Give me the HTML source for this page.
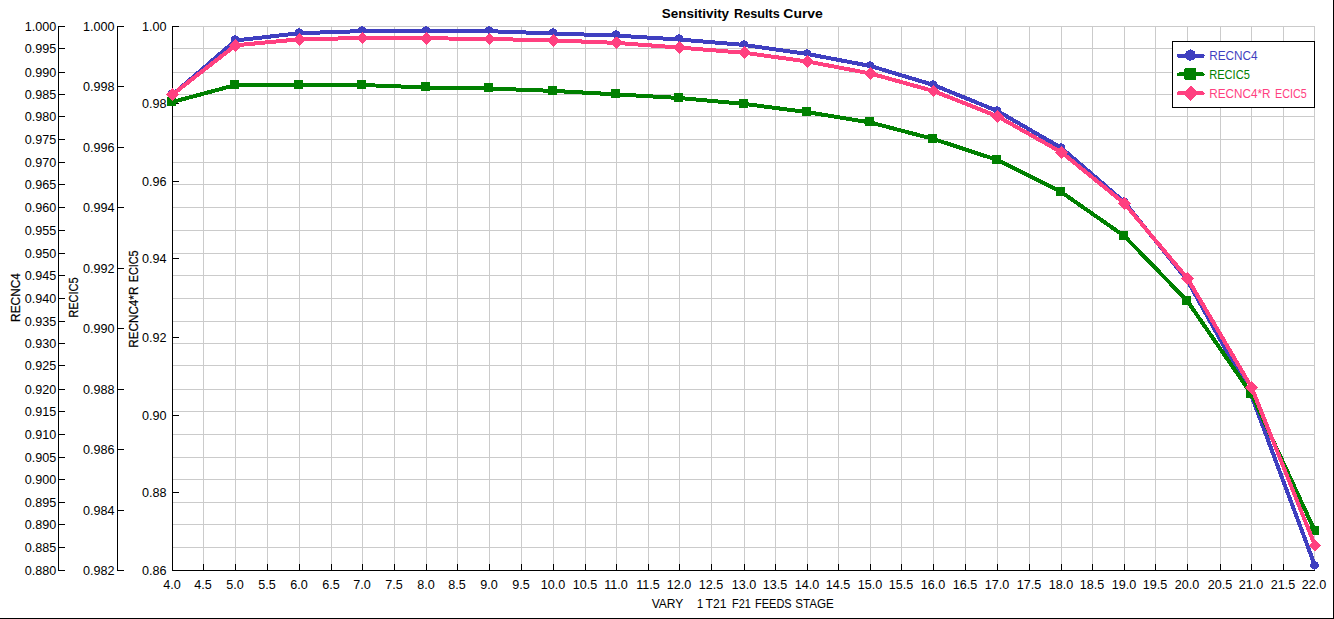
<!DOCTYPE html>
<html><head><meta charset="utf-8"><title>Sensitivity Results Curve</title>
<style>html,body{margin:0;padding:0;background:#fff;overflow:hidden}svg{display:block}text{font-family:"Liberation Sans", sans-serif;fill:#000}</style></head><body>
<svg width="1334" height="619" viewBox="0 0 1334 619">
<rect x="0" y="0" width="1334" height="619" fill="#fff"/>
<g shape-rendering="crispEdges">
<rect x="1333" y="0" width="1" height="619" fill="#000"/><rect x="0" y="618" width="1334" height="1" fill="#000"/>
<path d="M203.5 26V571M235.5 26V571M267.5 26V571M299.5 26V571M331.5 26V571M362.5 26V571M394.5 26V571M426.5 26V571M457.5 26V571M489.5 26V571M521.5 26V571M553.5 26V571M585.5 26V571M616.5 26V571M648.5 26V571M679.5 26V571M711.5 26V571M744.5 26V571M775.5 26V571M807.5 26V571M838.5 26V571M870.5 26V571M901.5 26V571M933.5 26V571M965.5 26V571M997.5 26V571M1029.5 26V571M1061.5 26V571M1092.5 26V571M1124.5 26V571M1155.5 26V571M1187.5 26V571M1220.5 26V571M1251.5 26V571M1283.5 26V571M1314.5 26V571M172 26.5H1315M172 48.5H1315M172 72.5H1315M172 94.5H1315M172 116.5H1315M172 139.5H1315M172 162.5H1315M172 184.5H1315M172 207.5H1315M172 230.5H1315M172 253.5H1315M172 275.5H1315M172 298.5H1315M172 321.5H1315M172 343.5H1315M172 365.5H1315M172 389.5H1315M172 411.5H1315M172 434.5H1315M172 457.5H1315M172 479.5H1315M172 502.5H1315M172 524.5H1315M172 547.5H1315" stroke="#cbcbcb" stroke-width="1" fill="none"/>
<path d="M58.5 26V571M58 26.5H65M58 48.5H65M58 72.5H65M58 94.5H65M58 116.5H65M58 139.5H65M58 162.5H65M58 184.5H65M58 207.5H65M58 230.5H65M58 253.5H65M58 275.5H65M58 298.5H65M58 321.5H65M58 343.5H65M58 365.5H65M58 389.5H65M58 411.5H65M58 434.5H65M58 457.5H65M58 479.5H65M58 502.5H65M58 524.5H65M58 547.5H65M58 570.5H65M117.5 26V571M117 26.5H124M117 86.5H124M117 147.5H124M117 207.5H124M117 268.5H124M117 328.5H124M117 389.5H124M117 449.5H124M117 510.5H124M117 570.5H124M172.5 26V571M172 26.5H179M172 103.5H179M172 181.5H179M172 258.5H179M172 337.5H179M172 415.5H179M172 492.5H179M172 570.5H179M172 570.5H1315M203.5 564V571M235.5 564V571M267.5 564V571M299.5 564V571M331.5 564V571M362.5 564V571M394.5 564V571M426.5 564V571M457.5 564V571M489.5 564V571M521.5 564V571M553.5 564V571M585.5 564V571M616.5 564V571M648.5 564V571M679.5 564V571M711.5 564V571M744.5 564V571M775.5 564V571M807.5 564V571M838.5 564V571M870.5 564V571M901.5 564V571M933.5 564V571M965.5 564V571M997.5 564V571M1029.5 564V571M1061.5 564V571M1092.5 564V571M1124.5 564V571M1155.5 564V571M1187.5 564V571M1220.5 564V571M1251.5 564V571M1283.5 564V571" stroke="#000" stroke-width="1" fill="none"/>
</g>
<g font-size="12.6" text-anchor="end">
<text x="56.2" y="30.9">1.000</text>
<text x="56.2" y="52.9">0.995</text>
<text x="56.2" y="76.9">0.990</text>
<text x="56.2" y="98.9">0.985</text>
<text x="56.2" y="120.9">0.980</text>
<text x="56.2" y="143.9">0.975</text>
<text x="56.2" y="166.9">0.970</text>
<text x="56.2" y="188.9">0.965</text>
<text x="56.2" y="211.9">0.960</text>
<text x="56.2" y="234.9">0.955</text>
<text x="56.2" y="257.9">0.950</text>
<text x="56.2" y="279.9">0.945</text>
<text x="56.2" y="302.9">0.940</text>
<text x="56.2" y="325.9">0.935</text>
<text x="56.2" y="347.9">0.930</text>
<text x="56.2" y="369.9">0.925</text>
<text x="56.2" y="393.9">0.920</text>
<text x="56.2" y="415.9">0.915</text>
<text x="56.2" y="438.9">0.910</text>
<text x="56.2" y="461.9">0.905</text>
<text x="56.2" y="483.9">0.900</text>
<text x="56.2" y="506.9">0.895</text>
<text x="56.2" y="528.9">0.890</text>
<text x="56.2" y="551.9">0.885</text>
<text x="56.2" y="574.9">0.880</text>
<text x="114.6" y="30.9">1.000</text>
<text x="114.6" y="90.9">0.998</text>
<text x="114.6" y="151.9">0.996</text>
<text x="114.6" y="211.9">0.994</text>
<text x="114.6" y="272.9">0.992</text>
<text x="114.6" y="332.9">0.990</text>
<text x="114.6" y="393.9">0.988</text>
<text x="114.6" y="453.9">0.986</text>
<text x="114.6" y="514.9">0.984</text>
<text x="114.6" y="574.9">0.982</text>
<text x="166.4" y="30.9">1.00</text>
<text x="166.4" y="107.9">0.98</text>
<text x="166.4" y="185.9">0.96</text>
<text x="166.4" y="262.9">0.94</text>
<text x="166.4" y="341.9">0.92</text>
<text x="166.4" y="419.9">0.90</text>
<text x="166.4" y="496.9">0.88</text>
<text x="166.4" y="574.9">0.86</text>
</g>
<g font-size="12.6" text-anchor="middle">
<text x="172.1" y="589">4.0</text>
<text x="203.1" y="589">4.5</text>
<text x="235.1" y="589">5.0</text>
<text x="267.1" y="589">5.5</text>
<text x="299.1" y="589">6.0</text>
<text x="331.1" y="589">6.5</text>
<text x="362.1" y="589">7.0</text>
<text x="394.1" y="589">7.5</text>
<text x="426.1" y="589">8.0</text>
<text x="457.1" y="589">8.5</text>
<text x="489.1" y="589">9.0</text>
<text x="521.1" y="589">9.5</text>
<text x="553.1" y="589">10.0</text>
<text x="585.1" y="589">10.5</text>
<text x="616.1" y="589">11.0</text>
<text x="648.1" y="589">11.5</text>
<text x="679.1" y="589">12.0</text>
<text x="711.1" y="589">12.5</text>
<text x="744.1" y="589">13.0</text>
<text x="775.1" y="589">13.5</text>
<text x="807.1" y="589">14.0</text>
<text x="838.1" y="589">14.5</text>
<text x="870.1" y="589">15.0</text>
<text x="901.1" y="589">15.5</text>
<text x="933.1" y="589">16.0</text>
<text x="965.1" y="589">16.5</text>
<text x="997.1" y="589">17.0</text>
<text x="1029.1" y="589">17.5</text>
<text x="1061.1" y="589">18.0</text>
<text x="1092.1" y="589">18.5</text>
<text x="1124.1" y="589">19.0</text>
<text x="1155.1" y="589">19.5</text>
<text x="1187.1" y="589">20.0</text>
<text x="1220.1" y="589">20.5</text>
<text x="1251.1" y="589">21.0</text>
<text x="1283.1" y="589">21.5</text>
<text x="1314.1" y="589">22.0</text>
</g>
<text font-size="13.2" stroke="#000" stroke-width="0.22" transform="translate(20.2,321.9) rotate(-90)" textLength="48.8" lengthAdjust="spacingAndGlyphs">RECNC4</text>
<text font-size="13.2" stroke="#000" stroke-width="0.22" transform="translate(78.2,317.7) rotate(-90)" textLength="40.4" lengthAdjust="spacingAndGlyphs">RECIC5</text>
<text font-size="13.2" stroke="#000" stroke-width="0.22" transform="translate(137.8,347.8) rotate(-90)" textLength="61.2" lengthAdjust="spacingAndGlyphs">RECNC4*R</text>
<text font-size="13.2" stroke="#000" stroke-width="0.22" transform="translate(137.8,282.3) rotate(-90)" textLength="31.8" lengthAdjust="spacingAndGlyphs">ECIC5</text>
<text font-size="12.6" x="651.7" y="608.2" textLength="31.7" lengthAdjust="spacingAndGlyphs">VARY</text>
<text font-size="12.6" x="697.0" y="608.2" textLength="6.2" lengthAdjust="spacingAndGlyphs">1</text>
<text font-size="12.6" x="705.5" y="608.2" textLength="20.9" lengthAdjust="spacingAndGlyphs">T21</text>
<text font-size="12.6" x="732.0" y="608.2" textLength="18.8" lengthAdjust="spacingAndGlyphs">F21</text>
<text font-size="12.6" x="755.1" y="608.2" textLength="36.6" lengthAdjust="spacingAndGlyphs">FEEDS</text>
<text font-size="12.6" x="795.3" y="608.2" textLength="38.6" lengthAdjust="spacingAndGlyphs">STAGE</text>
<text font-size="13" font-weight="bold" x="661.8" y="17.6" textLength="67.3" lengthAdjust="spacingAndGlyphs">Sensitivity</text>
<text font-size="13" font-weight="bold" x="734.0" y="17.6" textLength="45.7" lengthAdjust="spacingAndGlyphs">Results</text>
<text font-size="13" font-weight="bold" x="783.3" y="17.6" textLength="39.6" lengthAdjust="spacingAndGlyphs">Curve</text>
<polyline points="172.50,94.69 235.50,40.50 299.50,33.20 362.50,31.10 426.50,31.00 489.50,31.20 553.50,33.50 616.50,35.60 679.50,39.50 744.50,45.00 807.50,54.00 870.50,66.00 933.50,85.00 997.50,111.00 1061.50,148.00 1124.50,202.20 1187.50,280.60 1251.50,396.00 1315.00,565.80" fill="none" stroke="#3f3fc0" stroke-width="4" stroke-linejoin="round" shape-rendering="crispEdges"/>
<g fill="#3f3fc0" shape-rendering="crispEdges">
<path d="M171 89h2v1h2v1h1v4h-1v1h-2v1h-2v-1h-2v-1h-1v-4h1v-1h2z"/>
<path d="M234 35h2v1h2v1h1v4h-1v1h-2v1h-2v-1h-2v-1h-1v-4h1v-1h2z"/>
<path d="M298 28h2v1h2v1h1v4h-1v1h-2v1h-2v-1h-2v-1h-1v-4h1v-1h2z"/>
<path d="M361 26h2v1h2v1h1v4h-1v1h-2v1h-2v-1h-2v-1h-1v-4h1v-1h2z"/>
<path d="M425 26h2v1h2v1h1v4h-1v1h-2v1h-2v-1h-2v-1h-1v-4h1v-1h2z"/>
<path d="M488 26h2v1h2v1h1v4h-1v1h-2v1h-2v-1h-2v-1h-1v-4h1v-1h2z"/>
<path d="M552 28h2v1h2v1h1v4h-1v1h-2v1h-2v-1h-2v-1h-1v-4h1v-1h2z"/>
<path d="M615 30h2v1h2v1h1v4h-1v1h-2v1h-2v-1h-2v-1h-1v-4h1v-1h2z"/>
<path d="M678 34h2v1h2v1h1v4h-1v1h-2v1h-2v-1h-2v-1h-1v-4h1v-1h2z"/>
<path d="M743 40h2v1h2v1h1v4h-1v1h-2v1h-2v-1h-2v-1h-1v-4h1v-1h2z"/>
<path d="M806 49h2v1h2v1h1v4h-1v1h-2v1h-2v-1h-2v-1h-1v-4h1v-1h2z"/>
<path d="M869 61h2v1h2v1h1v4h-1v1h-2v1h-2v-1h-2v-1h-1v-4h1v-1h2z"/>
<path d="M932 80h2v1h2v1h1v4h-1v1h-2v1h-2v-1h-2v-1h-1v-4h1v-1h2z"/>
<path d="M996 106h2v1h2v1h1v4h-1v1h-2v1h-2v-1h-2v-1h-1v-4h1v-1h2z"/>
<path d="M1060 143h2v1h2v1h1v4h-1v1h-2v1h-2v-1h-2v-1h-1v-4h1v-1h2z"/>
<path d="M1123 197h2v1h2v1h1v4h-1v1h-2v1h-2v-1h-2v-1h-1v-4h1v-1h2z"/>
<path d="M1186 275h2v1h2v1h1v4h-1v1h-2v1h-2v-1h-2v-1h-1v-4h1v-1h2z"/>
<path d="M1250 391h2v1h2v1h1v4h-1v1h-2v1h-2v-1h-2v-1h-1v-4h1v-1h2z"/>
<circle cx="1314.5" cy="565.4" r="4.3"/>
</g>
<polyline points="172.50,102.00 235.50,85.00 299.50,85.00 362.50,85.00 426.50,87.50 489.50,88.50 553.50,90.90 616.50,94.40 679.50,98.00 744.50,103.90 807.50,112.20 870.50,122.50 933.50,139.00 997.50,160.00 1061.50,192.20 1124.50,236.20 1187.50,301.20 1251.50,394.20 1315.00,531.20" fill="none" stroke="#008000" stroke-width="4" stroke-linejoin="round" shape-rendering="crispEdges"/>
<g fill="#008000" shape-rendering="crispEdges">
<rect x="167.00" y="96.80" width="9" height="9"/>
<rect x="230.00" y="79.80" width="9" height="9"/>
<rect x="294.00" y="79.80" width="9" height="9"/>
<rect x="357.00" y="79.80" width="9" height="9"/>
<rect x="421.00" y="82.30" width="9" height="9"/>
<rect x="484.00" y="83.30" width="9" height="9"/>
<rect x="548.00" y="85.70" width="9" height="9"/>
<rect x="611.00" y="89.20" width="9" height="9"/>
<rect x="674.00" y="92.80" width="9" height="9"/>
<rect x="739.00" y="98.70" width="9" height="9"/>
<rect x="802.00" y="107.00" width="9" height="9"/>
<rect x="865.00" y="117.30" width="9" height="9"/>
<rect x="928.00" y="133.80" width="9" height="9"/>
<rect x="992.00" y="154.80" width="9" height="9"/>
<rect x="1056.00" y="187.00" width="9" height="9"/>
<rect x="1119.00" y="231.00" width="9" height="9"/>
<rect x="1182.00" y="296.00" width="9" height="9"/>
<rect x="1246.00" y="389.00" width="9" height="9"/>
<rect x="1310.00" y="526.00" width="9" height="9"/>
</g>
<polyline points="172.50,94.50 235.50,45.30 299.50,39.30 362.50,38.00 426.50,38.25 489.50,39.00 553.50,40.40 616.50,42.90 679.50,47.60 744.50,52.80 807.50,61.50 870.50,73.50 933.50,91.00 997.50,116.30 1061.50,152.30 1124.50,203.50 1187.50,278.50 1251.50,387.30 1315.00,545.50" fill="none" stroke="#ff4080" stroke-width="4" stroke-linejoin="round" shape-rendering="crispEdges"/>
<g fill="#ff4080" shape-rendering="crispEdges">
<path d="M172.50 88.10l6.4 6.4l-6.4 6.4l-6.4 -6.4z"/>
<path d="M235.50 38.90l6.4 6.4l-6.4 6.4l-6.4 -6.4z"/>
<path d="M299.50 32.90l6.4 6.4l-6.4 6.4l-6.4 -6.4z"/>
<path d="M362.50 31.60l6.4 6.4l-6.4 6.4l-6.4 -6.4z"/>
<path d="M426.50 31.85l6.4 6.4l-6.4 6.4l-6.4 -6.4z"/>
<path d="M489.50 32.60l6.4 6.4l-6.4 6.4l-6.4 -6.4z"/>
<path d="M553.50 34.00l6.4 6.4l-6.4 6.4l-6.4 -6.4z"/>
<path d="M616.50 36.50l6.4 6.4l-6.4 6.4l-6.4 -6.4z"/>
<path d="M679.50 41.20l6.4 6.4l-6.4 6.4l-6.4 -6.4z"/>
<path d="M744.50 46.40l6.4 6.4l-6.4 6.4l-6.4 -6.4z"/>
<path d="M807.50 55.10l6.4 6.4l-6.4 6.4l-6.4 -6.4z"/>
<path d="M870.50 67.10l6.4 6.4l-6.4 6.4l-6.4 -6.4z"/>
<path d="M933.50 84.60l6.4 6.4l-6.4 6.4l-6.4 -6.4z"/>
<path d="M997.50 109.90l6.4 6.4l-6.4 6.4l-6.4 -6.4z"/>
<path d="M1061.50 145.90l6.4 6.4l-6.4 6.4l-6.4 -6.4z"/>
<path d="M1124.50 197.10l6.4 6.4l-6.4 6.4l-6.4 -6.4z"/>
<path d="M1187.50 272.10l6.4 6.4l-6.4 6.4l-6.4 -6.4z"/>
<path d="M1251.50 380.90l6.4 6.4l-6.4 6.4l-6.4 -6.4z"/>
<path d="M1315.00 539.10l6.4 6.4l-6.4 6.4l-6.4 -6.4z"/>
</g>
<rect x="1172.5" y="41.5" width="142" height="66" fill="#fff" stroke="#000" stroke-width="1" shape-rendering="crispEdges"/>
<g shape-rendering="crispEdges">
<path d="M1190 49h1v1h-1zM1188 50h5v1h-5zM1186 51h9v1h-9zM1186 52h9v1h-9zM1185 53h10v1h-10zM1177 54h27v1h-27zM1177 55h28v1h-28zM1177 56h27v1h-27zM1178 57h26v1h-26zM1186 58h9v1h-9zM1187 59h7v1h-7zM1189 60h2v1h-2z" fill="#3f3fc0"/>
<path d="M1185 68h11v1h-11zM1184 69h12v1h-12zM1184 70h12v1h-12zM1184 71h12v1h-12zM1179 72h24v1h-24zM1177 73h27v1h-27zM1177 74h28v1h-28zM1177 75h27v1h-27zM1184 76h12v1h-12zM1184 77h12v1h-12zM1184 78h12v1h-12zM1185 79h11v1h-11z" fill="#008000"/>
<path d="M1190 86h2v1h-2zM1189 87h4v1h-4zM1188 88h6v1h-6zM1187 89h8v1h-8zM1186 90h10v1h-10zM1178 91h25v1h-25zM1177 92h27v1h-27zM1177 93h28v1h-28zM1177 94h27v1h-27zM1185 95h11v1h-11zM1186 96h9v1h-9zM1187 97h7v1h-7zM1188 98h5v1h-5zM1189 99h3v1h-3zM1190 100h1v1h-1z" fill="#ff4080"/>
</g>
<text font-size="12.6" x="1209.2" y="59.9" textLength="48.4" lengthAdjust="spacingAndGlyphs" style="fill:#3f3fc0">RECNC4</text>
<text font-size="12.6" x="1209.2" y="78.7" textLength="40.6" lengthAdjust="spacingAndGlyphs" style="fill:#008000">RECIC5</text>
<text font-size="12.6" x="1209.2" y="97.8" textLength="61.3" lengthAdjust="spacingAndGlyphs" style="fill:#ff4080">RECNC4*R</text>
<text font-size="12.6" x="1275.1" y="97.8" textLength="31.7" lengthAdjust="spacingAndGlyphs" style="fill:#ff4080">ECIC5</text>
</svg></body></html>
